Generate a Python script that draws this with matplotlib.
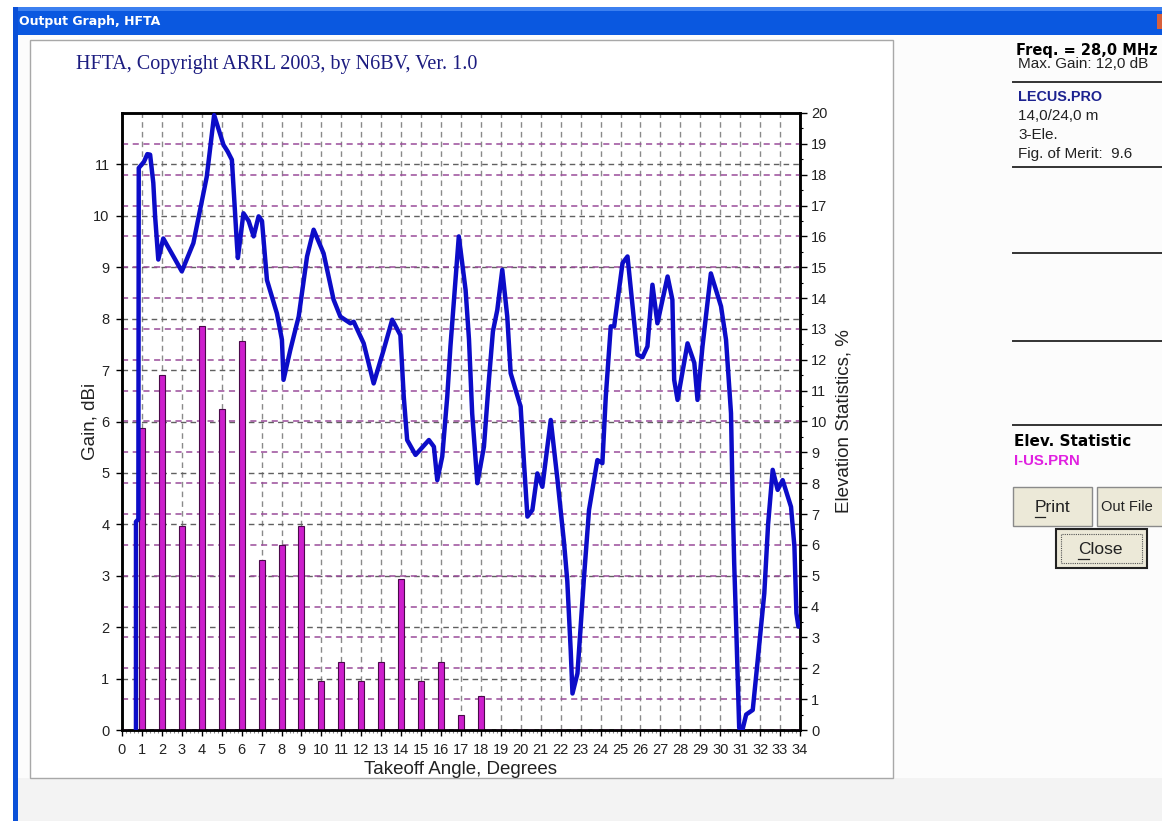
import matplotlib.pyplot as plt
from matplotlib.patches import Rectangle
from matplotlib.lines import Line2D
import numpy as np

# Takeoff angle (deg) and gain (dBi)
angle = [0.70, 0.70, 0.82, 0.84, 1.10, 1.27, 1.41, 1.57, 1.66, 1.82, 2.07, 2.58, 3.00,
         3.58, 4.25, 4.62, 5.09, 5.30, 5.51, 5.76, 5.81, 6.09, 6.35, 6.60, 6.85, 7.02,
         7.27, 7.77, 8.02, 8.10, 8.44, 8.69, 8.86, 9.28, 9.61, 10.11, 10.61, 10.95,
         11.45, 11.62, 12.12, 12.62, 13.12, 13.55, 13.96, 14.13, 14.30, 14.72, 15.39,
         15.64, 15.81, 16.06, 16.31, 16.47, 16.89, 17.23, 17.40, 17.56, 17.82, 18.15,
         18.40, 18.60, 18.82, 19.07, 19.32, 19.49, 19.99, 20.16, 20.33, 20.58, 20.83,
         21.08, 21.50, 21.84, 22.17, 22.33, 22.50, 22.59, 22.84, 23.00, 23.17, 23.42,
         23.84, 24.09, 24.26, 24.51, 24.68, 25.10, 25.35, 25.85, 26.10, 26.35, 26.60,
         26.85, 27.36, 27.60, 27.69, 27.86, 28.36, 28.70, 28.86, 29.11, 29.53, 30.04,
         30.29, 30.54, 30.62, 30.70, 30.79, 30.95, 31.05, 31.30, 31.63, 31.88, 32.21,
         32.40, 32.63, 32.88, 33.13, 33.55, 33.72, 33.82, 33.92, 34.00]
gain = [0.0, 4.05, 4.10, 10.93, 11.05, 11.20, 11.19, 10.64, 9.99, 9.15, 9.56, 9.21, 8.92,
        9.47, 10.76, 11.96, 11.38, 11.25, 11.09, 9.47, 9.18, 10.05, 9.90, 9.60, 9.99, 9.90,
        8.75, 8.10, 7.59, 6.81, 7.39, 7.78, 8.04, 9.21, 9.73, 9.27, 8.37, 8.04,
        7.91, 7.94, 7.52, 6.74, 7.39, 7.98, 7.68, 6.48, 5.64, 5.35, 5.64,
        5.51, 4.86, 5.32, 6.48, 7.46, 9.60, 8.56, 7.60, 6.16, 4.80, 5.51,
        6.81, 7.75, 8.17, 8.95, 8.04, 6.94, 6.29, 5.19, 4.15, 4.28, 4.99,
        4.73, 6.03, 4.86, 3.63, 2.90, 1.56, 0.71, 1.10, 2.01, 2.98, 4.28,
        5.25, 5.19, 6.48, 7.85, 7.85, 9.08, 9.21, 7.30, 7.25, 7.46, 8.66,
        7.91, 8.82, 8.37, 6.81, 6.42, 7.52, 7.14, 6.42, 7.46, 8.88, 8.24,
        7.59, 6.16, 4.54, 3.24, 2.14, 0.05, -0.10, 0.30, 0.39, 1.36, 2.66,
        4.00, 5.06, 4.67, 4.86, 4.34, 3.57, 2.27, 2.01, 2.05]

# Elevation statistics (%) per degree
stat_angle = list(range(1, 19))
stat_pct = [9.8, 11.5, 6.6, 13.1, 10.4, 12.6, 5.5, 6.0, 6.6,
            1.6, 2.2, 1.6, 2.2, 4.9, 1.6, 2.2, 0.5, 1.1]

W, H = 1162, 821
fig = plt.figure(figsize=(W / 100, H / 100), dpi=100, facecolor='#fcfcfc')


def rect(x0, y0, x1, y1, **kw):
    kw.setdefault('zorder', -5)
    fig.patches.append(Rectangle((x0 / W, 1 - y1 / H), (x1 - x0) / W, (y1 - y0) / H,
                                 transform=fig.transFigure, **kw))


def hline(x0, x1, y, **kw):
    kw.setdefault('zorder', -4)
    fig.lines.append(Line2D([x0 / W, x1 / W], [1 - y / H, 1 - y / H],
                            transform=fig.transFigure, **kw))


def txt(x, y, s, **kw):
    fig.text(x / W, 1 - y / H, s, va='center', **kw)


# window chrome
rect(0, 0, 13, H, facecolor='white', edgecolor='none')
rect(0, 0, W, 7, facecolor='white', edgecolor='none')
rect(13, 7, W, 35, facecolor='#0a58e0', edgecolor='none')
rect(13, 7, W, 11, facecolor='#3c80f0', edgecolor='none')
rect(13, 7, 18, H, facecolor='#0a50d8', edgecolor='none')
rect(1157, 14, W, 29, facecolor='#d8603c', edgecolor='none')
txt(19, 22, 'Output Graph, HFTA', color='white', fontsize=9, fontweight='bold',
    family='DejaVu Sans')
rect(18, 778, W, H, facecolor='#f3f3f3', edgecolor='none')
rect(30, 40, 893, 778, facecolor='white', edgecolor='#a8a8a8', linewidth=1)

txt(76, 64, 'HFTA, Copyright ARRL 2003, by N6BV, Ver. 1.0', color='#1c1c80',
    fontsize=14.5, family='Liberation Serif')

# right-hand info panel
txt(1016, 50, 'Freq. = 28,0 MHz', fontsize=10.5, fontweight='bold', family='DejaVu Sans')
txt(1018, 64, 'Max. Gain: 12,0 dB', fontsize=11, family='Liberation Sans', color='#222222')
for yy in [82, 167, 253, 341, 425]:
    hline(1013, W, yy, color='#333333', linewidth=1.4)
txt(1018, 97, 'LECUS.PRO', fontsize=10.4, fontweight='bold', family='Liberation Sans',
    color='#1c2290')
txt(1018, 116, '14,0/24,0 m', fontsize=11, family='Liberation Sans', color='#222222')
txt(1018, 135, '3-Ele.', fontsize=11, family='Liberation Sans', color='#222222')
txt(1018, 154, 'Fig. of Merit:  9.6', fontsize=11, family='Liberation Sans', color='#222222')
txt(1014, 442, 'Elev. Statistic', fontsize=11, fontweight='bold', family='DejaVu Sans')
txt(1014, 461, 'I-US.PRN', fontsize=10.8, fontweight='bold', family='Liberation Sans',
    color='#e020e0')

rect(1013, 487, 1092, 526, facecolor='#ece9d8', edgecolor='#8a8a8a', linewidth=1)
rect(1097, 487, W + 5, 526, facecolor='#ece9d8', edgecolor='#8a8a8a', linewidth=1)
rect(1056, 529, 1147, 568, facecolor='#ece9d8', edgecolor='#222222', linewidth=1.5)
rect(1061, 534, 1142, 563, facecolor='none', edgecolor='#555555', linewidth=0.8,
     linestyle=(0, (1, 1)))
txt(1035, 507, 'Print', fontsize=12.5, family='Liberation Sans', color='#222222')
txt(1101, 507, 'Out File', fontsize=10.5, family='Liberation Sans', color='#222222')
txt(1078, 549, 'Close', fontsize=12.5, family='Liberation Sans', color='#222222')
hline(1035, 1045, 517, color='#222222', linewidth=0.9)
hline(1078, 1089, 559, color='#222222', linewidth=0.9)

# chart
ax = fig.add_axes([122 / W, 1 - 730 / H, (800 - 122) / W, (730 - 113) / H])
ax2 = ax.twinx()

ax.set_xlim(0, 34)
ax.set_ylim(0, 12)
ax2.set_ylim(0, 20)

dash = (0, (4, 3))
ax.set_xticks(range(0, 35))
ax.set_xticks(np.arange(0, 34.01, 0.2), minor=True)
ax.set_yticks(range(0, 12))
ax.grid(True, axis='x', color='#8a8a8a', linestyle=dash, linewidth=1)
ax.grid(True, axis='y', color='#606060', linestyle=dash, linewidth=1)
ax2.set_yticks(range(0, 21))
ax2.set_yticks(np.arange(0, 20.01, 0.5), minor=True)
ax2.grid(True, axis='y', color='#9a4c9a', linestyle=dash, linewidth=1.1)

ax2.bar(stat_angle, stat_pct, width=0.3, color='#cc1fcc', edgecolor='#4a0a4a',
        linewidth=0.8, zorder=2)
ax2.plot(angle, gain, color='#0c0cc8', linewidth=3.2, solid_joinstyle='round',
         transform=ax.transData, zorder=3, clip_on=True)

for a in (ax, ax2):
    for s in a.spines.values():
        s.set_linewidth(1.8)
        s.set_color('black')

lab = dict(family='Liberation Sans', color='#222222')
ax.tick_params(axis='x', which='major', length=4, width=1, pad=5, labelsize=10.5,
               labelcolor='#222222')
ax.tick_params(axis='x', which='minor', length=2.5, width=0.8, color='#888888')
ax.tick_params(axis='y', which='major', length=4, width=1, pad=5, labelsize=10.5,
               labelcolor='#222222')
ax2.tick_params(axis='y', which='major', length=5, width=1, pad=3, labelsize=10.5,
                labelcolor='#222222')
ax2.tick_params(axis='y', which='minor', length=2.5, width=0.8)
ax.set_xticklabels([str(i) for i in range(0, 35)], family='Liberation Sans')
ax.set_yticklabels([str(i) for i in range(0, 12)], family='Liberation Sans')
ax2.set_yticklabels([str(i) for i in range(0, 21)], family='Liberation Sans')

ax.set_xlabel('Takeoff Angle, Degrees', fontsize=13.5, labelpad=3, **lab)
ax.set_ylabel('Gain, dBi', fontsize=13.5, labelpad=-4, **lab)
ax2.set_ylabel('Elevation Statistics, %', fontsize=13.5, labelpad=6, **lab)

fig.savefig('out.png', dpi=100, facecolor=fig.get_facecolor())
